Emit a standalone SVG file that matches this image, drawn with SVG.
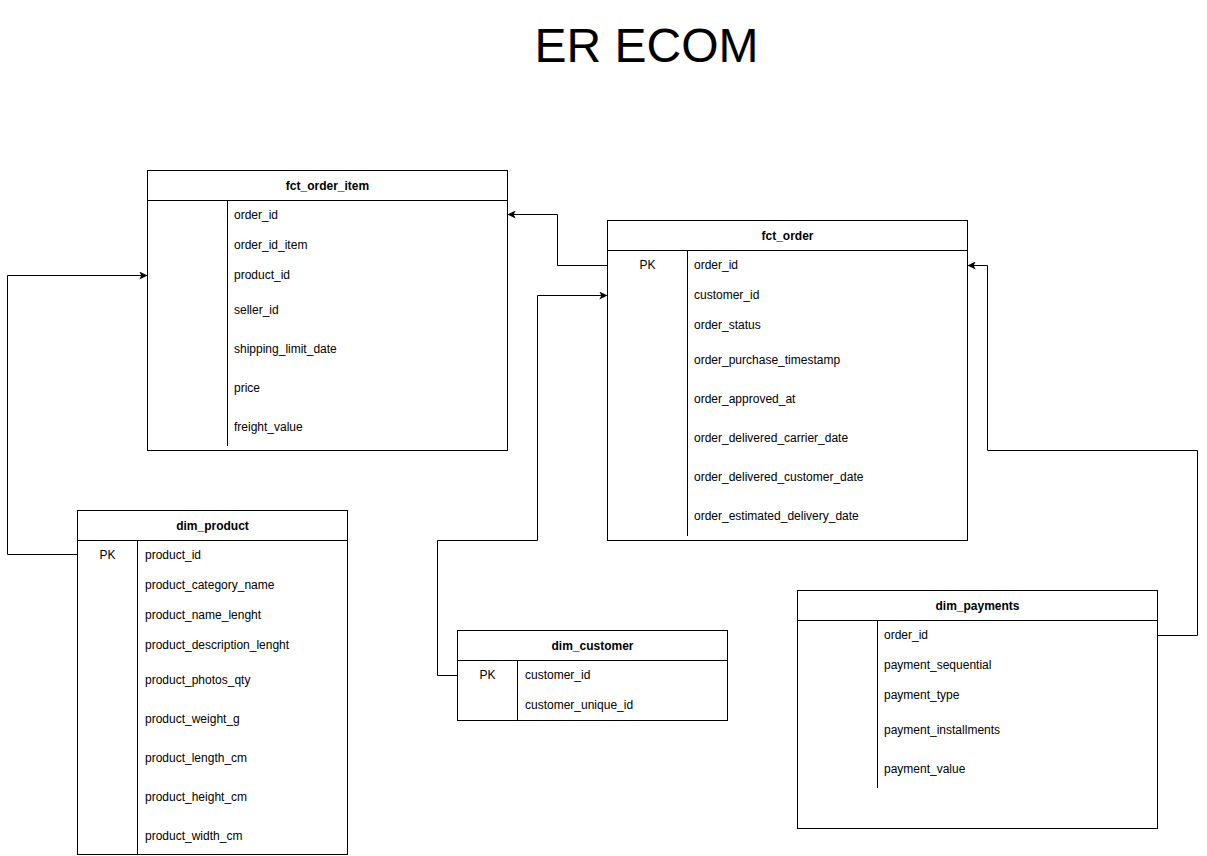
<svg xmlns="http://www.w3.org/2000/svg" width="1207" height="856" viewBox="0 0 1207 856">
<style>
.box{fill:#fff;stroke:#000;stroke-width:1}
.ln{fill:none;stroke:#000;stroke-width:1}
.hd{font-family:"Liberation Sans",Arial,sans-serif;font-size:12px;font-weight:bold;fill:#000;text-anchor:middle}
.f{font-family:"Liberation Sans",Arial,sans-serif;font-size:12px;fill:#000}
.pk{font-family:"Liberation Sans",Arial,sans-serif;font-size:12px;fill:#000;text-anchor:middle}
.title{font-family:"Liberation Sans",Arial,sans-serif;font-size:48px;fill:#000;text-anchor:middle}
.c{fill:none;stroke:#000;stroke-width:1}
</style>
<defs>
<marker id="arr" viewBox="0 0 10 10" refX="9" refY="5" markerWidth="8" markerHeight="8" markerUnits="userSpaceOnUse" orient="auto">
<path d="M0,0 L10,5 L0,10 L2.5,5 Z" fill="#000"/>
</marker>
</defs>
<rect width="1207" height="856" fill="#fff"/>
<text class="title" x="646.5" y="62">ER ECOM</text>

<g id="connectors">
<path class="c" d="M607.5,265.5 H557.5 V214.5 H508.5" marker-end="url(#arr)"/>
<path class="c" d="M77.5,554.5 H7.5 V275.5 H146.5" marker-end="url(#arr)"/>
<path class="c" d="M457.5,675.5 H437.5 V540.5 H537.5 V295.5 H606.5" marker-end="url(#arr)"/>
<path class="c" d="M1157.5,635.5 H1197.5 V450.5 H987.5 V265.5 H968.5" marker-end="url(#arr)"/>
</g>

<g id="fct_order_item">
<rect class="box" x="147.5" y="170.5" width="360" height="280"/>
<line class="ln" x1="147.5" y1="200.5" x2="507.5" y2="200.5"/>
<line class="ln" x1="227.5" y1="200.5" x2="227.5" y2="446"/>
<text class="hd" x="327.5" y="189.5">fct_order_item</text>
<text class="f" x="234" y="218.5">order_id</text>
<text class="f" x="234" y="248.5">order_id_item</text>
<text class="f" x="234" y="278.5">product_id</text>
<text class="f" x="234" y="313.5">seller_id</text>
<text class="f" x="234" y="352.5">shipping_limit_date</text>
<text class="f" x="234" y="391.5">price</text>
<text class="f" x="234" y="430.5">freight_value</text>
</g>

<g id="fct_order">
<rect class="box" x="607.5" y="220.5" width="360" height="320"/>
<line class="ln" x1="607.5" y1="250.5" x2="967.5" y2="250.5"/>
<line class="ln" x1="687.5" y1="250.5" x2="687.5" y2="536"/>
<text class="hd" x="787.5" y="239.5">fct_order</text>
<text class="pk" x="647.5" y="268.5">PK</text>
<text class="f" x="694" y="268.5">order_id</text>
<text class="f" x="694" y="298.5">customer_id</text>
<text class="f" x="694" y="328.5">order_status</text>
<text class="f" x="694" y="363.5">order_purchase_timestamp</text>
<text class="f" x="694" y="402.5">order_approved_at</text>
<text class="f" x="694" y="441.5">order_delivered_carrier_date</text>
<text class="f" x="694" y="480.5">order_delivered_customer_date</text>
<text class="f" x="694" y="519.5">order_estimated_delivery_date</text>
</g>

<g id="dim_product">
<rect class="box" x="77.5" y="510.5" width="270" height="344"/>
<line class="ln" x1="77.5" y1="540.5" x2="347.5" y2="540.5"/>
<line class="ln" x1="137.5" y1="540.5" x2="137.5" y2="854.5"/>
<text class="hd" x="212.5" y="529.5">dim_product</text>
<text class="pk" x="107.5" y="558.5">PK</text>
<text class="f" x="145" y="558.5">product_id</text>
<text class="f" x="145" y="588.5">product_category_name</text>
<text class="f" x="145" y="618.5">product_name_lenght</text>
<text class="f" x="145" y="648.5">product_description_lenght</text>
<text class="f" x="145" y="683.5">product_photos_qty</text>
<text class="f" x="145" y="722.5">product_weight_g</text>
<text class="f" x="145" y="761.5">product_length_cm</text>
<text class="f" x="145" y="800.5">product_height_cm</text>
<text class="f" x="145" y="839.5">product_width_cm</text>
</g>

<g id="dim_customer">
<rect class="box" x="457.5" y="630.5" width="270" height="90"/>
<line class="ln" x1="457.5" y1="660.5" x2="727.5" y2="660.5"/>
<line class="ln" x1="517.5" y1="660.5" x2="517.5" y2="720.5"/>
<text class="hd" x="592.5" y="649.5">dim_customer</text>
<text class="pk" x="487.5" y="678.5">PK</text>
<text class="f" x="525" y="678.5">customer_id</text>
<text class="f" x="525" y="708.5">customer_unique_id</text>
</g>

<g id="dim_payments">
<rect class="box" x="797.5" y="590.5" width="360" height="238"/>
<line class="ln" x1="797.5" y1="620.5" x2="1157.5" y2="620.5"/>
<line class="ln" x1="877.5" y1="620.5" x2="877.5" y2="788"/>
<text class="hd" x="977.5" y="609.5">dim_payments</text>
<text class="f" x="884" y="638.5">order_id</text>
<text class="f" x="884" y="668.5">payment_sequential</text>
<text class="f" x="884" y="698.5">payment_type</text>
<text class="f" x="884" y="733.5">payment_installments</text>
<text class="f" x="884" y="772.5">payment_value</text>
</g>
</svg>
